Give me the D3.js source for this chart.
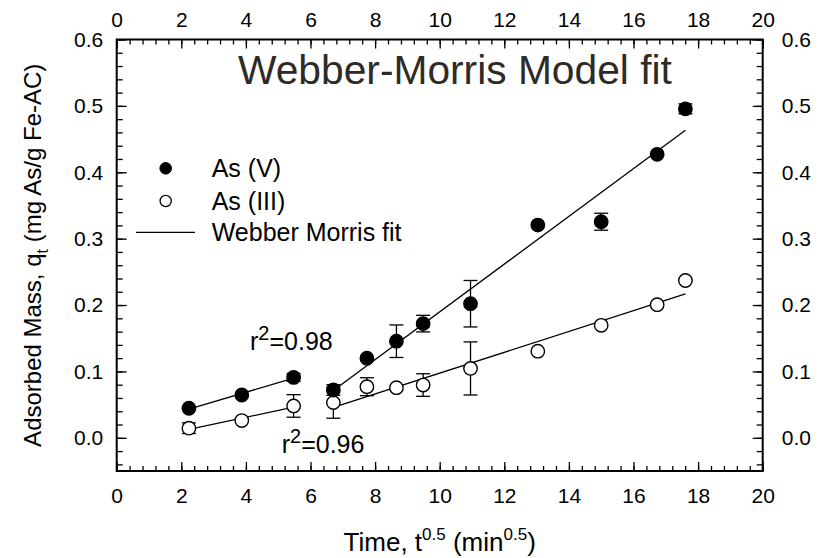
<!DOCTYPE html>
<html>
<head>
<meta charset="utf-8">
<script src="https://cdn.jsdelivr.net/npm/d3@7/dist/d3.min.js"></script>
<style>
  html, body { margin: 0; padding: 0; background: #fff; }
  svg { display: block; }
  text { font-family: Arial, "Liberation Sans", sans-serif; fill: #000; }
</style>
</head>
<body>
<svg id="chart" width="821" height="558"></svg>
<script>
// Square root of contact time, t^0.5 (min^0.5)
const sqrtTime = [2.236, 3.873, 5.477, 6.708, 7.746, 8.660, 9.487, 10.954, 13.038, 15.000, 16.733, 17.607];

// Adsorbed mass q_t (mg As / g Fe-AC) and error bar half-widths
const asV      = [0.0445, 0.0645, 0.091, 0.072, 0.120, 0.1455, 0.172, 0.202, 0.3205, 0.3255, 0.427, 0.4955];
const asVErr   = [0, 0, 0.006, 0.008, 0, 0.0245, 0.0125, 0.035, 0, 0.0128, 0, 0.0075];
const asIII    = [0.0145, 0.026, 0.048, 0.053, 0.077, 0.0755, 0.0795, 0.1045, 0.1305, 0.1695, 0.2005, 0.237];
const asIIIErr = [0.008, 0, 0.017, 0.0235, 0.0135, 0, 0.017, 0.04, 0, 0, 0, 0];

// Two linear stages of the intraparticle-diffusion fit (index ranges into the arrays)
const fitStages = [[0, 2], [3, 11]];

const xTickLabels = ["0", "2", "4", "6", "8", "10", "12", "14", "16", "18", "20"];
const yTickLabels = ["0.0", "0.1", "0.2", "0.3", "0.4", "0.5", "0.6"];

const svg = d3.select("#chart");
const plotL = 116.7, plotR = 762.7, plotT = 39.5, plotB = 471;

const x = d3.scaleLinear().domain([0, 20]).range([plotL, plotR]);
const y = d3.scaleLinear().domain([-0.05, 0.6]).range([plotB, plotT]);

// ---- axes (ticks pointing inward) ----
function minorTicks(lo, hi, step) {
  return d3.range(Math.round((hi - lo) / step) + 1).map(i => +(lo + i * step).toFixed(4));
}
const xMinor = minorTicks(0, 20, 0.4);
const yMinor = minorTicks(-0.04, 0.6, 0.02);
const xMajor = xTickLabels.map(Number);
const yMajor = yTickLabels.map(Number);

const axes = svg.append("g").attr("class", "axes");
function drawAxis(axisGen, transform, majorVals, minorVals, majorLen, minorLen, labels, labelPad) {
  const gMinor = axes.append("g").attr("transform", transform)
    .call(axisGen.tickValues(minorVals).tickSize(-minorLen).tickFormat(""));
  gMinor.select(".domain").remove();
  gMinor.selectAll(".tick line").attr("stroke", "#000").attr("stroke-width", 1.3);
  const g = axes.append("g").attr("transform", transform)
    .call(axisGen.tickValues(majorVals).tickSize(-majorLen).tickPadding(labelPad)
      .tickFormat((d, i) => labels[i]));
  g.select(".domain").remove();
  g.selectAll(".tick line").attr("stroke", "#000").attr("stroke-width", 1.3);
  g.selectAll(".tick text").attr("font-size", 21).attr("font-family", "Arial, 'Liberation Sans', sans-serif").attr("fill", "#000");
  return g;
}
drawAxis(d3.axisBottom(x), `translate(0,${plotB})`, xMajor, xMinor, 9, 5, xTickLabels, 17.5);
drawAxis(d3.axisTop(x), `translate(0,${plotT})`, xMajor, xMinor, 9, 5, xTickLabels, 13);
drawAxis(d3.axisLeft(y), `translate(${plotL},0)`, yMajor, yMinor, 10, 6, yTickLabels, 13.5);
drawAxis(d3.axisRight(y), `translate(${plotR},0)`, yMajor, yMinor, 10, 6, yTickLabels, 19);

// frame
axes.append("rect")
  .attr("x", plotL).attr("y", plotT).attr("width", plotR - plotL).attr("height", plotB - plotT)
  .attr("fill", "none").attr("stroke", "#000").attr("stroke-width", 2);

// ---- fitted lines (least squares per stage) ----
function linFit(xs, ys) {
  const mx = d3.mean(xs), my = d3.mean(ys);
  const sxy = d3.sum(xs, (v, i) => (v - mx) * (ys[i] - my));
  const sxx = d3.sum(xs, v => (v - mx) * (v - mx));
  const b = sxy / sxx;
  return { a: my - b * mx, b };
}
const line = d3.line().x(d => x(d[0])).y(d => y(d[1]));
const fits = svg.append("g").attr("class", "fits");
[asV, asIII].forEach(series => {
  fitStages.forEach(([i0, i1]) => {
    const xs = sqrtTime.slice(i0, i1 + 1), ys = series.slice(i0, i1 + 1);
    const f = linFit(xs, ys);
    const x0 = xs[0], x1 = xs[xs.length - 1];
    fits.append("path")
      .attr("d", line([[x0, f.a + f.b * x0], [x1, f.a + f.b * x1]]))
      .attr("fill", "none").attr("stroke", "#000").attr("stroke-width", 1.3);
  });
});

// ---- error bars and markers ----
const capHalf = 7, markerR = 6.7;
function drawSeries(vals, errs, filled) {
  const g = svg.append("g");
  vals.forEach((v, i) => {
    const e = errs[i];
    if (e > 0) {
      const cx = x(sqrtTime[i]);
      g.append("line").attr("x1", cx).attr("x2", cx).attr("y1", y(v - e)).attr("y2", y(v + e))
        .attr("stroke", "#000").attr("stroke-width", 1.3);
      [v - e, v + e].forEach(w => {
        g.append("line").attr("x1", cx - capHalf).attr("x2", cx + capHalf).attr("y1", y(w)).attr("y2", y(w))
          .attr("stroke", "#000").attr("stroke-width", 1.3);
      });
    }
  });
  g.selectAll("circle").data(vals).join("circle")
    .attr("cx", (d, i) => x(sqrtTime[i])).attr("cy", d => y(d)).attr("r", markerR)
    .attr("fill", filled ? "#000" : "#fff").attr("stroke", "#000").attr("stroke-width", 1.4);
}
drawSeries(asIII, asIIIErr, false);
drawSeries(asV, asVErr, true);

// ---- legend ----
const legend = svg.append("g").attr("font-size", 25);
legend.append("circle").attr("cx", 165.7).attr("cy", 168.3).attr("r", 5.8).attr("fill", "#000").attr("stroke", "#000");
legend.append("text").attr("x", 211.7).attr("y", 177).text("As (V)");
legend.append("circle").attr("cx", 165.7).attr("cy", 201).attr("r", 5.6).attr("fill", "#fff").attr("stroke", "#000").attr("stroke-width", 1.3);
legend.append("text").attr("x", 211.7).attr("y", 210).text("As (III)");
legend.append("line").attr("x1", 136).attr("x2", 195).attr("y1", 232.3).attr("y2", 232.3).attr("stroke", "#000").attr("stroke-width", 1.3);
legend.append("text").attr("x", 211.7).attr("y", 241).text("Webber Morris fit");

// ---- r^2 annotations ----
function rsq(xp, yp, val) {
  const t = svg.append("text").attr("x", xp).attr("y", yp).attr("font-size", 25);
  t.append("tspan").text("r");
  t.append("tspan").attr("font-size", 20).attr("dy", -10).text("2");
  t.append("tspan").attr("dy", 10).text("=" + val);
}
rsq(250, 350, "0.98");
rsq(281.7, 453, "0.96");

// ---- title ----
const title = svg.append("text")
  .attr("x", 238).attr("y", 84)
  .attr("font-family", "Lato, 'Open Sans', sans-serif")
  .attr("font-size", 36).style("fill", "#2e2b26")
  .text("Webber-Morris Model fit");
const tw = title.node().getComputedTextLength();
title.attr("font-size", 36 * 434 / tw);

// ---- axis titles ----
const xt = svg.append("text").attr("x", (plotL + plotR) / 2).attr("y", 551).attr("text-anchor", "middle").attr("font-size", 26);
xt.append("tspan").text("Time, t");
xt.append("tspan").attr("font-size", 17).attr("dy", -11).text("0.5");
xt.append("tspan").attr("dy", 11).text(" (min");
xt.append("tspan").attr("font-size", 17).attr("dy", -11).text("0.5");
xt.append("tspan").attr("dy", 11).text(")");

const yt = svg.append("text").attr("transform", `translate(41,${(plotT + plotB) / 2}) rotate(-90)`)
  .attr("text-anchor", "middle").attr("font-size", 24);
yt.append("tspan").text("Adsorbed Mass, q");
yt.append("tspan").attr("font-size", 16).attr("dy", 7).text("t");
yt.append("tspan").attr("dy", -7).text(" (mg As/g Fe-AC)");
</script>
</body>
</html>
